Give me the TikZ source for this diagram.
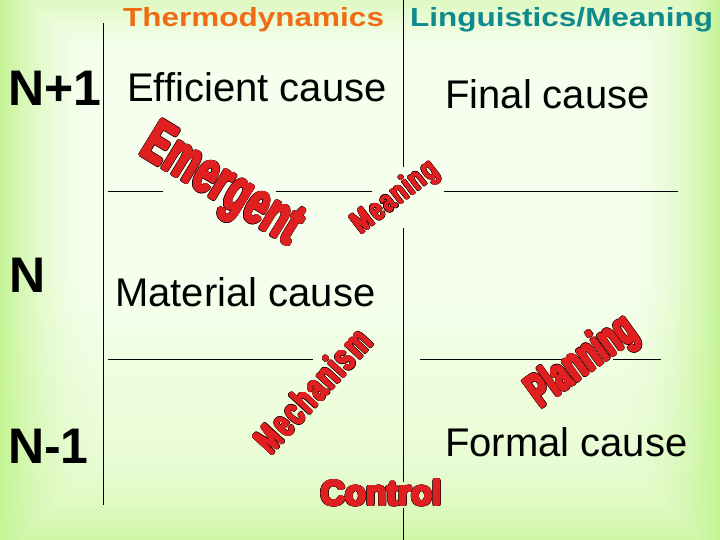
\documentclass[tikz,border=0pt]{standalone}
\usepackage{fontspec}
\setmainfont{Liberation Sans}
\newfontfamily\waEm[FakeStretch=0.62]{Liberation Sans}
\newfontfamily\waMe[FakeStretch=0.72]{Liberation Sans}
\newfontfamily\waMc[FakeStretch=0.66]{Liberation Sans}
\newfontfamily\waPl[FakeStretch=0.6]{Liberation Sans}
\usepackage{graphicx}
\usepackage{contour}
\usetikzlibrary{decorations.text}
\definecolor{bgA}{RGB}{246,255,238}
\definecolor{bgM}{RGB}{226,251,200}
\definecolor{bgD}{RGB}{196,244,148}
\definecolor{thermoC}{RGB}{240,108,20}
\definecolor{lingC}{RGB}{16,138,138}
\definecolor{waRed}{RGB}{224,32,32}
\definecolor{waOut}{RGB}{40,0,0}
\contournumber{20}
\newcommand\waChar[1]{\rlap{\contourlength{1.7pt}\contour{waOut}{#1}}{\contourlength{1.1pt}\contour{waRed}{#1}}}
\newcommand\waCharM[1]{\rlap{\contourlength{1.2pt}\contour{waOut}{#1}}{\contourlength{0.6pt}\contour{waRed}{#1}}}
\newcommand\waCharS[1]{\rlap{\contourlength{0.9pt}\contour{waOut}{#1}}{\contourlength{0.3pt}\contour{waRed}{#1}}}
\tikzset{
  rule/.style={draw=black, line width=0.9pt},
  head/.style={anchor=base west, inner sep=0pt, font=\fontsize{25}{25}\selectfont\bfseries},
  nlbl/.style={anchor=base west, inner sep=0pt, font=\fontsize{50}{50}\selectfont\bfseries},
  cause/.style={anchor=base west, inner sep=0pt, font=\fontsize{40}{40}\selectfont},
  wordart/.style 2 args={decorate, decoration={text effects along path, text={#1},
    text effects/.cd, text along path, fit text to path, character command=#2}},
}
\begin{document}
\begin{tikzpicture}[x=1pt,y=-1pt]
\useasboundingbox (0,0) rectangle (720,540);
\begin{scope}
\clip (0,0) rectangle (720,540);
\fill[bgA] (0,0) rectangle (720,540);
\shade[top color=bgA, bottom color=bgM] (0,280) rectangle (720,540);
\foreach \k in {0,...,19} {
  \pgfmathsetmacro\din{5*\k}
  \pgfmathsetmacro\dout{5*\k+5}
  \pgfmathsetmacro\op{pow(1-(5*\k+2.5)/100,2)}
  \fill[bgD, fill opacity=\op, even odd rule] (\din,-30+\din) rectangle (720-\din,560-\din) (\dout,-30+\dout) rectangle (720-\dout,560-\dout);
}
\end{scope}
% rules
\draw[rule] (103,23) -- (103,505);
\draw[rule] (403,0) -- (403,167);
\draw[rule] (403,228) -- (403,482);
\draw[rule] (403,508) -- (403,540);
\draw[rule] (108,191) -- (163,191);
\draw[rule] (276,191) -- (372,191);
\draw[rule] (444,191) -- (678,191);
\draw[rule] (108,359) -- (313,359);
\draw[rule] (420,359) -- (565,359);
\draw[rule] (613,359) -- (661,359);
% headings
\node[head, text=thermoC] (thermo) at (123,27) {\scalebox{1.26}[1.05]{Thermodynamics}};
\node[head, text=lingC] (ling) at (410,27) {\scalebox{1.26}[1.05]{Linguistics/Meaning}};
% level labels
\node[nlbl] (np1) at (8,106) {N+1};
\node[nlbl] (n0) at (9,292) {N};
\node[nlbl] (nm1) at (8,463) {N-1};
% causes
\node[cause] (eff) at (127,102) {Efficient cause};
\node[cause] (fin) at (445,109) {Final cause};
\node[cause] (mat) at (115,306) {Material cause};
\node[cause] (form) at (445,456) {Formal cause};
% word art
\path[wordart={Emergent}{\waChar}, decoration={raise=-16pt, text effects/characters={text=waRed, inner sep=0pt, font=\waEm\bfseries\fontsize{60}{60}\selectfont}}] (147,140) -- (297,232);
\path[wordart={Meaning}{\waCharS}, decoration={raise=-8.5pt, text effects/characters={text=waRed, inner sep=0pt, font=\waMe\bfseries\fontsize{31}{31}\selectfont}}] (356,228) -- (435,167);
\path[wordart={Mechanism}{\waCharM}, decoration={raise=-10pt, text effects/characters={text=waRed, inner sep=0pt, font=\waMc\bfseries\fontsize{38}{38}\selectfont}}] (264,449) -- (367,337);
\path[wordart={Planning}{\waChar}, decoration={raise=-13pt, text effects/characters={text=waRed, inner sep=0pt, font=\waPl\bfseries\fontsize{47}{47}\selectfont}}] (533,398) -- (632,326);
\node[anchor=base, inner sep=0pt, font=\bfseries\fontsize{34}{34}\selectfont, text=waRed] (control) at (381,505) {\waChar{Control}};
\end{tikzpicture}
\end{document}
